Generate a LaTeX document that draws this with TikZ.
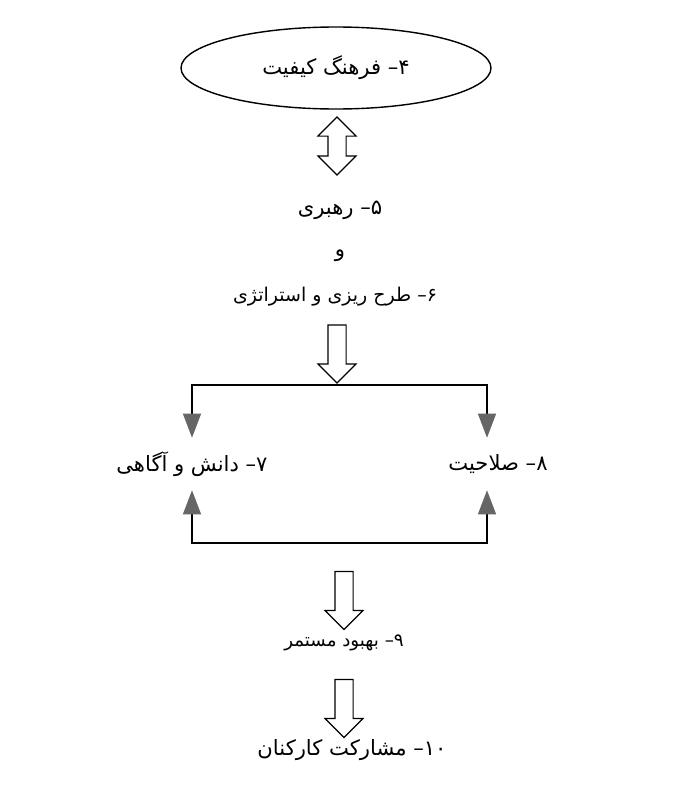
\documentclass[tikz,border=0pt]{standalone}
\usepackage{fontspec}
\TeXXeTstate=1
\newfontfamily\arabicfont[Script=Arabic]{DejaVu Sans}
\usetikzlibrary{arrows.meta,shapes.geometric,shapes.arrows}
\definecolor{headgray}{gray}{0.4}
\tikzset{
  farsi/.style={font=\arabicfont\fontsize{15}{18}\selectfont, inner sep=0pt},
  hollow/.style={single arrow, draw, line width=0.8pt, fill=white, inner xsep=0pt,
    inner ysep=0.2125cm, single arrow head extend=0.25cm, minimum height=1.45cm, rotate=-90},
  twoway/.style={double arrow, draw, line width=0.8pt, fill=white, inner xsep=0pt,
    inner ysep=0.2125cm, double arrow head extend=0.25cm, minimum height=1.45cm, rotate=90},
  branch/.style={line width=0.8pt, -{Triangle[length=0.6cm,width=0.45cm,color=headgray]}}
}

\begin{document}
\begin{tikzpicture}
\useasboundingbox (0,0) rectangle (17.275,-19.8);
% Top ellipse
\node[farsi, draw, ellipse, line width=1pt, minimum width=7.75cm, minimum height=2.05cm] (n4) at (8.4,-1.7) {\beginR ۴– فرهنگ کیفیت\endR};
% Two-way hollow arrow
\node[twoway] (a1) at (8.425,-3.65) {};
% Middle texts
\node[farsi] (n5) at (8.5,-5.25) {\beginR ۵– رهبری\endR};
\node[farsi] (nva) at (8.5,-6.4) {\beginR و\endR};
\node[farsi, font=\arabicfont\fontsize{13.5}{16}\selectfont] (n6) at (8.375,-7.425) {\beginR ۶– طرح ریزی و استراتژی\endR};
\node[hollow] (a2) at (8.425,-8.7375) {};
% Split into the two branches
\coordinate (c1) at (8.425,-9.625);
\node[farsi, minimum height=1.3cm] (n7) at (4.8,-11.6) {\beginR ۷– دانش و آگاهی\endR};
\node[farsi, minimum height=1.3cm] (n8) at (12.45,-11.6) {\beginR ۸– صلاحیت\endR};
\draw[branch] (c1) -| (n7.north);
\draw[branch] (c1) -| ([xshift=-0.275cm]n8.north);
% Join below the branches
\coordinate (c2) at (8.575,-13.575);
\draw[branch] (c2) -| (n7.south);
\draw[branch] (c2) -| ([xshift=-0.275cm]n8.south);
% Lower part
\node[hollow] (a3) at (8.6,-14.9) {};
\node[farsi, font=\arabicfont\fontsize{13}{16}\selectfont] (n9) at (8.6,-16.075) {\beginR ۹– بهبود مستمر\endR};
\node[hollow] (a4) at (8.6,-17.6) {};
\node[farsi] (n10) at (8.8,-18.75) {\beginR \beginL۱۰\endL– مشارکت کارکنان\endR};
\end{tikzpicture}
\end{document}
